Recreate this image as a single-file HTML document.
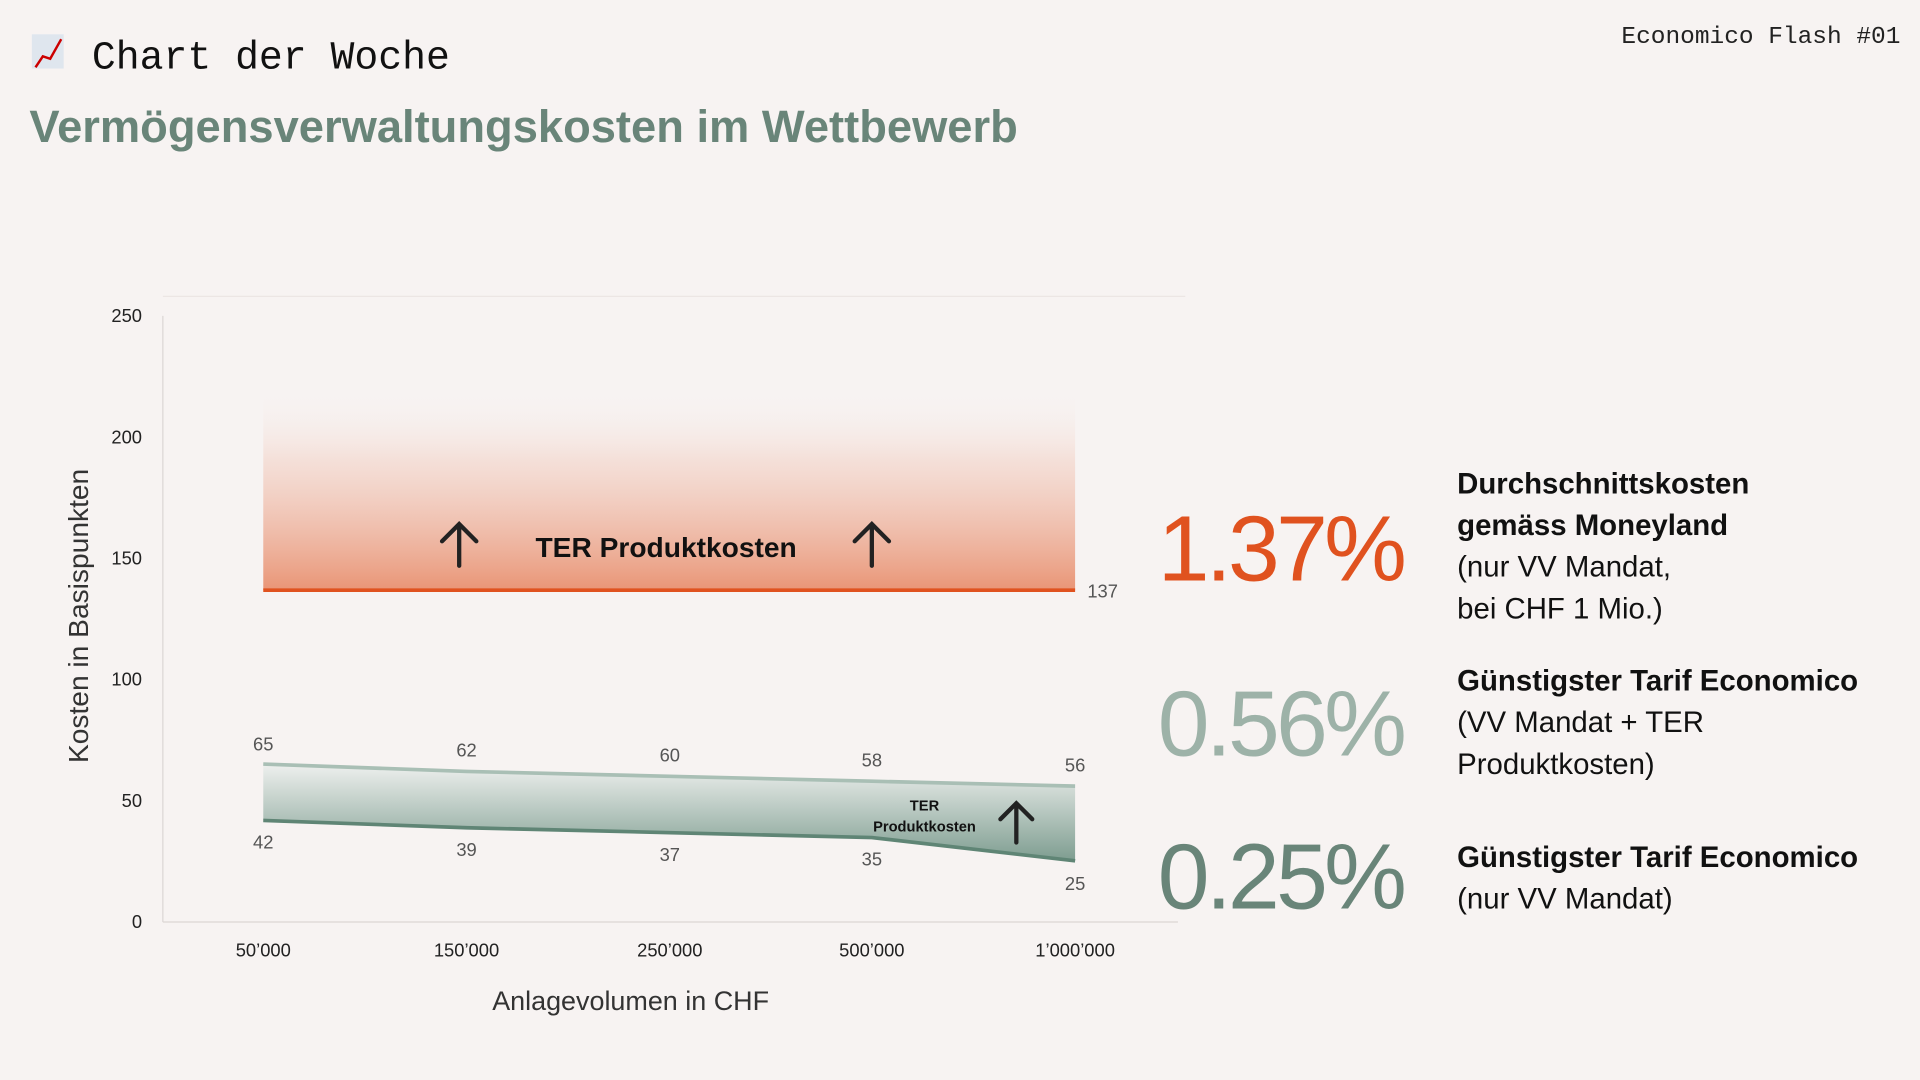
<!DOCTYPE html>
<html><head><meta charset="utf-8"><style>
html,body{margin:0;padding:0;background:#f7f3f2;}
svg{display:block}
</style></head><body>
<svg width="1920" height="1080" viewBox="0 0 1568 882" xmlns="http://www.w3.org/2000/svg">
<defs>
<linearGradient id="og" x1="0" y1="0" x2="0" y2="1">
<stop offset="0" stop-color="#f7f3f2" stop-opacity="0"/>
<stop offset="0.35" stop-color="#f3d3c8" stop-opacity="0.6"/>
<stop offset="1" stop-color="#e99576"/>
</linearGradient>
<linearGradient id="gg" x1="0" y1="0" x2="0" y2="1">
<stop offset="0" stop-color="#eef0ee"/>
<stop offset="1" stop-color="#7e9d90"/>
</linearGradient>
</defs>
<rect width="1568" height="882" fill="#f7f3f2"/>
<!-- header -->
<rect x="26" y="28" width="26" height="28" fill="#dfe6ee"/>
<polyline points="29,55 35,46 41,48 50,32" fill="none" stroke="#c00" stroke-width="2"/>
<text x="75" y="56" font-family="Liberation Mono, monospace" font-size="32.5" fill="#111">Chart der Woche</text>
<text x="1552" y="35" text-anchor="end" font-family="Liberation Mono, monospace" font-size="20" fill="#222">Economico Flash #01</text>
<text x="24" y="116" font-family="Liberation Sans, sans-serif" font-size="37" font-weight="bold" fill="#698579">Vermögensverwaltungskosten im Wettbewerb</text>
<!-- axes -->
<line x1="133" y1="242" x2="968" y2="242" stroke="#ece6e4"/>
<line x1="133" y1="258" x2="133" y2="753" stroke="#dcd6d4"/>
<line x1="133" y1="753" x2="962" y2="753" stroke="#dcd6d4"/>
<g font-family="Liberation Sans, sans-serif" font-size="15" fill="#222" text-anchor="end">
<text x="116" y="263">250</text><text x="116" y="362">200</text><text x="116" y="461">150</text>
<text x="116" y="560">100</text><text x="116" y="659">50</text><text x="116" y="758">0</text>
</g>
<g font-family="Liberation Sans, sans-serif" font-size="15" fill="#222" text-anchor="middle">
<text x="215" y="781">50’000</text><text x="381" y="781">150’000</text><text x="547" y="781">250’000</text>
<text x="712" y="781">500’000</text><text x="878" y="781">1’000’000</text>
</g>
<text x="515" y="825" text-anchor="middle" font-family="Liberation Sans, sans-serif" font-size="22" fill="#333">Anlagevolumen in CHF</text>
<text transform="translate(72,503) rotate(-90)" text-anchor="middle" font-family="Liberation Sans, sans-serif" font-size="23" fill="#333">Kosten in Basispunkten</text>
<!-- orange -->
<rect x="215" y="318" width="663" height="164" fill="url(#og)"/>
<line x1="215" y1="482" x2="878" y2="482" stroke="#e0521f" stroke-width="3"/>
<text x="888" y="488" font-family="Liberation Sans, sans-serif" font-size="15" fill="#555">137</text>
<text x="544" y="455" text-anchor="middle" font-family="Liberation Sans, sans-serif" font-size="23" font-weight="bold" fill="#111">TER Produktkosten</text>
<!-- green -->
<path d="M215,624 L381,630 L547,634 L712,638 L878,642 L878,703 L712,684 L547,680 L381,676 L215,670 Z" fill="url(#gg)"/>
<polyline points="215,624 381,630 547,634 712,638 878,642" fill="none" stroke="#a9bfb5" stroke-width="3"/>
<polyline points="215,670 381,676 547,680 712,684 878,703" fill="none" stroke="#5f8575" stroke-width="3"/>
<g stroke="#222" stroke-width="3.5" fill="none" stroke-linecap="round">
<path d="M375,462 V428 M361,442 L375,428 L389,442"/>
<path d="M712,462 V428 M698,442 L712,428 L726,442"/>
<path d="M830,688 V656 M817,669 L830,656 L843,669"/>
</g>
<g font-family="Liberation Sans, sans-serif" font-size="15" fill="#555" text-anchor="middle">
<text x="215" y="613">65</text><text x="381" y="618">62</text><text x="547" y="622">60</text><text x="712" y="626">58</text><text x="878" y="630">56</text>
<text x="215" y="693">42</text><text x="381" y="699">39</text><text x="547" y="703">37</text><text x="712" y="707">35</text><text x="878" y="727">25</text>
</g>
<text x="755" y="662" text-anchor="middle" font-family="Liberation Sans, sans-serif" font-size="12" font-weight="bold" fill="#111">TER</text>
<text x="755" y="679" text-anchor="middle" font-family="Liberation Sans, sans-serif" font-size="12" font-weight="bold" fill="#111">Produktkosten</text>
<!-- big numbers -->
<g font-family="Liberation Sans, sans-serif" font-size="76" text-anchor="end" letter-spacing="-3">
<text x="1146" y="474" fill="#e0521f">1.37%</text>
<text x="1146" y="617" fill="#9db2a8">0.56%</text>
<text x="1146" y="742" fill="#698579">0.25%</text>
</g>
<g font-family="Liberation Sans, sans-serif" font-size="24" fill="#111">
<text x="1190" y="403" font-weight="bold">Durchschnittskosten</text>
<text x="1190" y="437" font-weight="bold">gemäss Moneyland</text>
<text x="1190" y="471">(nur VV Mandat,</text>
<text x="1190" y="505">bei CHF 1 Mio.)</text>
<text x="1190" y="564" font-weight="bold">Günstigster Tarif Economico</text>
<text x="1190" y="598">(VV Mandat + TER</text>
<text x="1190" y="632">Produktkosten)</text>
<text x="1190" y="708" font-weight="bold">Günstigster Tarif Economico</text>
<text x="1190" y="742">(nur VV Mandat)</text>
</g>
</svg>
</body></html>
